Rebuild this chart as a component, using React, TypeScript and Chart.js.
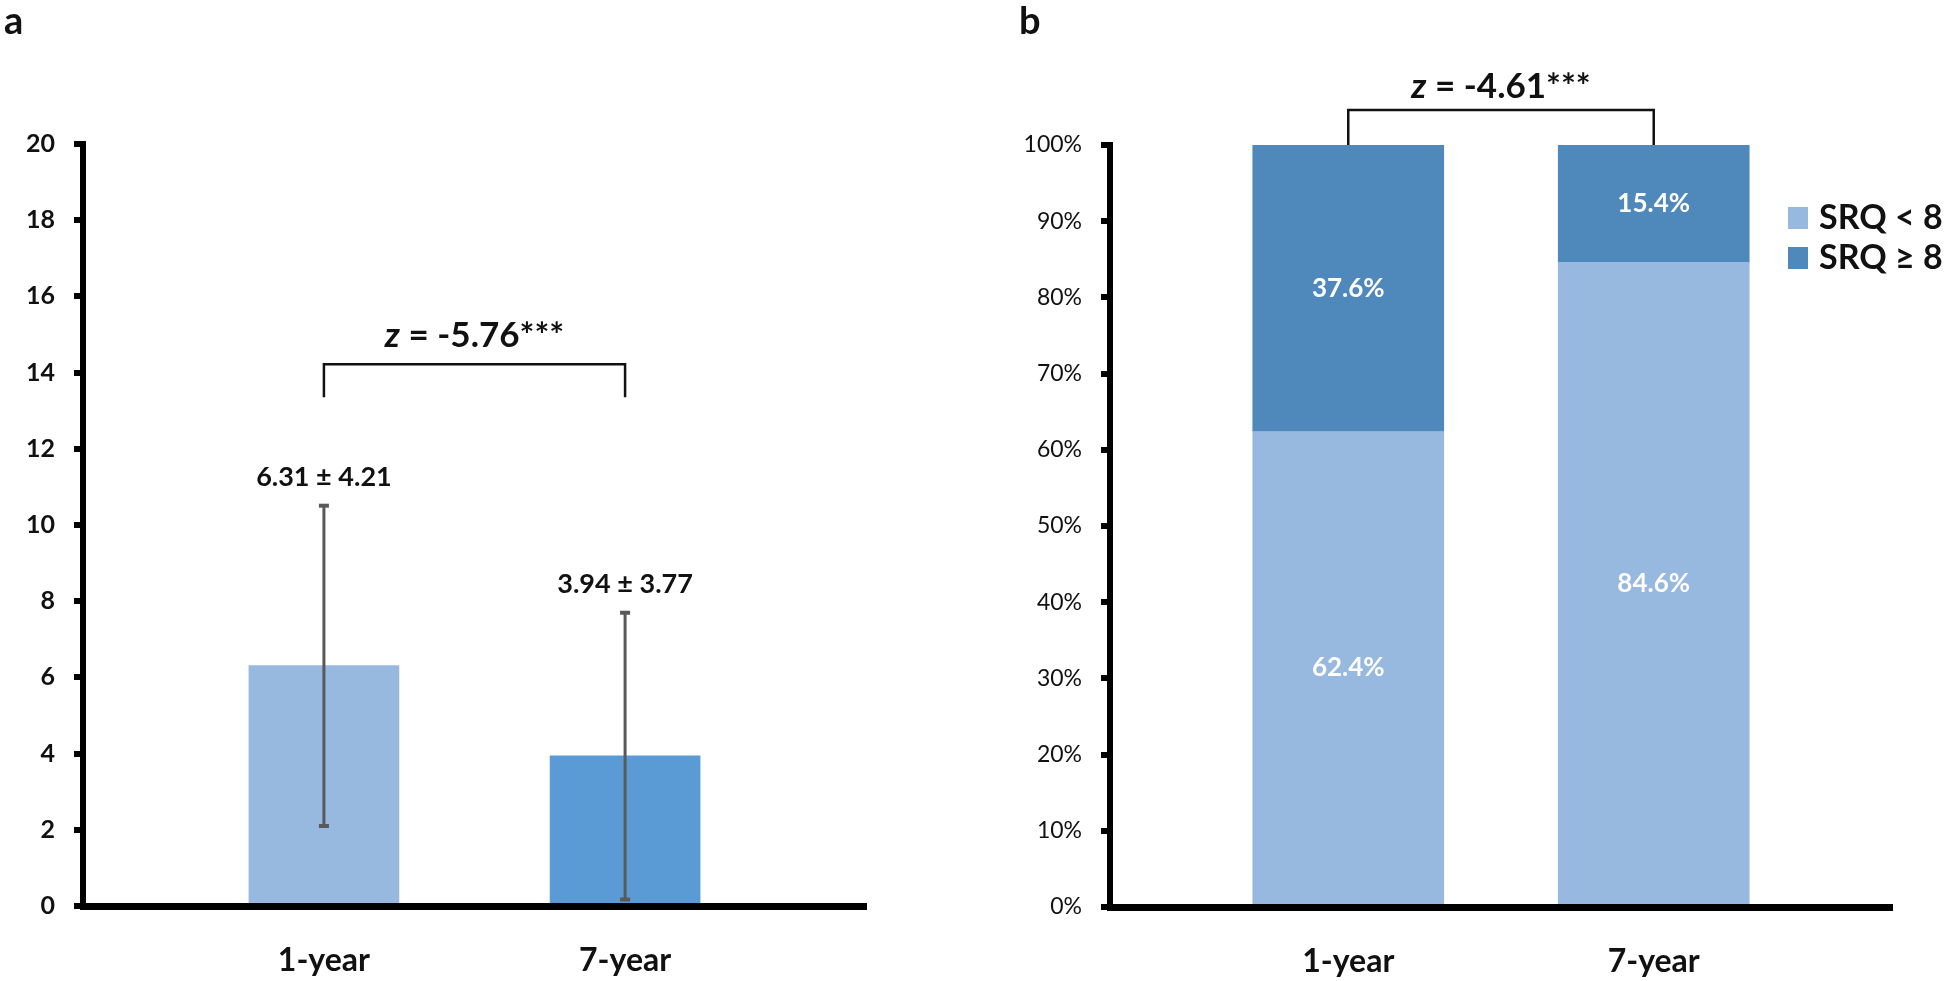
import React, { useEffect, useRef } from "react";
import { Chart, registerables } from "chart.js";

Chart.register(...registerables);

const FONT = "Lato, 'Open Sans', sans-serif";

// ---------- Panel a data ----------
const categories = ["1-year", "7-year"];
const meanScores = [6.31, 3.94];
const sdScores = [4.21, 3.77];
const meanLabels = ["6.31 ± 4.21", "3.94 ± 3.77"];
const barColorsA = ["#97B8DF", "#5B9BD5"];
const yMinA = 0;
const yMaxA = 20;
const yStepA = 2;
const zLabelA = ["z", " = -5.76***"];
const bracketA = { line: 14.22, legs: 13.35, text: 14.98 };

// ---------- Panel b data ----------
const seriesNames = ["SRQ < 8", "SRQ ≥ 8"];
const srqLow = [62.4, 84.6];
const srqHigh = [37.6, 15.4];
const seriesColors = ["#97B8DF", "#4F88BB"];
const yMinB = 0;
const yMaxB = 100;
const yStepB = 10;
const zLabelB = ["z", " = -4.61***"];
const bracketB = { line: 104.6, legs: 100, text: 107.7 };

function drawZ(ctx: CanvasRenderingContext2D, parts: string[], cx: number, cy: number, size: number) {
  ctx.save();
  ctx.fillStyle = "#111";
  ctx.textBaseline = "middle";
  ctx.textAlign = "left";
  ctx.font = `italic bold ${size}px ${FONT}`;
  const w1 = ctx.measureText(parts[0]).width;
  ctx.font = `bold ${size}px ${FONT}`;
  const w2 = ctx.measureText(parts[1]).width;
  const start = cx - (w1 + w2) / 2;
  ctx.font = `italic bold ${size}px ${FONT}`;
  ctx.fillText(parts[0], start, cy);
  ctx.font = `bold ${size}px ${FONT}`;
  ctx.fillText(parts[1], start + w1, cy);
  ctx.restore();
}

function drawBracket(chart: any, b: { line: number; legs: number; text: number }, parts: string[]) {
  const ctx = chart.ctx as CanvasRenderingContext2D;
  const xs = chart.scales.x;
  const ys = chart.scales.y;
  const x0 = xs.getPixelForValue(0);
  const x1 = xs.getPixelForValue(1);
  const yl = ys.getPixelForValue(b.line);
  const yg = ys.getPixelForValue(b.legs);
  ctx.save();
  ctx.strokeStyle = "#111";
  ctx.lineWidth = 2.5;
  ctx.beginPath();
  ctx.moveTo(x0, yg);
  ctx.lineTo(x0, yl);
  ctx.lineTo(x1, yl);
  ctx.lineTo(x1, yg);
  ctx.stroke();
  ctx.restore();
  drawZ(ctx, parts, (x0 + x1) / 2, ys.getPixelForValue(b.text), 35);
}

const panelAPlugin = {
  id: "panelA",
  afterDatasetsDraw(chart: any) {
    const ctx = chart.ctx as CanvasRenderingContext2D;
    const ys = chart.scales.y;
    const meta = chart.getDatasetMeta(0);
    ctx.save();
    meta.data.forEach((bar: any, i: number) => {
      const cx = bar.x;
      const top = ys.getPixelForValue(meanScores[i] + sdScores[i]);
      const bot = ys.getPixelForValue(meanScores[i] - sdScores[i]);
      ctx.strokeStyle = "#595959";
      ctx.lineWidth = 3;
      ctx.beginPath();
      ctx.moveTo(cx, top);
      ctx.lineTo(cx, bot);
      ctx.stroke();
      ctx.fillStyle = "#595959";
      ctx.fillRect(cx - 5, top - 1.5, 10, 4);
      ctx.fillRect(cx - 5, bot - 2, 10, 4);
      ctx.fillStyle = "#111";
      ctx.font = `bold 27px ${FONT}`;
      ctx.textAlign = "center";
      ctx.textBaseline = "middle";
      ctx.fillText(meanLabels[i], cx, top - 28);
    });
    ctx.restore();
    drawBracket(chart, bracketA, zLabelA);
  },
  afterDraw(chart: any) {
    const ctx = chart.ctx as CanvasRenderingContext2D;
    ctx.save();
    ctx.fillStyle = "#111";
    ctx.font = `bold 38px ${FONT}`;
    ctx.textAlign = "left";
    ctx.textBaseline = "alphabetic";
    ctx.fillText("a", 4, 34);
    ctx.restore();
  },
};

const panelBPlugin = {
  id: "panelB",
  afterDatasetsDraw(chart: any) {
    const ctx = chart.ctx as CanvasRenderingContext2D;
    ctx.save();
    ctx.fillStyle = "#ffffff";
    ctx.font = `bold 26px ${FONT}`;
    ctx.textAlign = "center";
    ctx.textBaseline = "middle";
    chart.data.datasets.forEach((ds: any, di: number) => {
      const meta = chart.getDatasetMeta(di);
      meta.data.forEach((bar: any, i: number) => {
        const v = ds.data[i].y;
        ctx.fillText(`${v.toFixed(1)}%`, bar.x, (bar.y + bar.base) / 2);
      });
    });
    ctx.restore();
    drawBracket(chart, bracketB, zLabelB);
    // legend
    ctx.save();
    chart.data.datasets.forEach((ds: any, di: number) => {
      const cy = 218 + di * 40;
      ctx.fillStyle = ds.backgroundColor;
      ctx.fillRect(815, cy - 11, 20, 22);
      ctx.fillStyle = "#111";
      ctx.font = `bold 34px ${FONT}`;
      ctx.textAlign = "left";
      ctx.textBaseline = "middle";
      ctx.fillText(ds.label, 846, cy);
    });
    ctx.restore();
  },
  afterDraw(chart: any) {
    const ctx = chart.ctx as CanvasRenderingContext2D;
    ctx.save();
    ctx.fillStyle = "#111";
    ctx.font = `bold 38px ${FONT}`;
    ctx.textAlign = "left";
    ctx.textBaseline = "alphabetic";
    ctx.fillText("b", 46, 34);
    ctx.restore();
  },
};

function ChartA() {
  const ref = useRef<HTMLCanvasElement>(null);
  useEffect(() => {
    const chart = new Chart(ref.current as HTMLCanvasElement, {
      type: "bar",
      data: {
        datasets: [
          {
            label: "SRQ score",
            data: meanScores.map((v, i) => ({ x: i, y: v })),
            backgroundColor: barColorsA,
            borderWidth: 0,
            barThickness: 150,
          },
        ],
      },
      options: {
        responsive: false,
        animation: false,
        devicePixelRatio: 1,
        layout: { padding: { top: 144, right: 107, left: 0, bottom: 0 } },
        plugins: { legend: { display: false }, tooltip: { enabled: false } },
        scales: {
          x: {
            type: "linear",
            offset: false,
            min: -0.8,
            max: 1.8,
            afterBuildTicks: (s: any) => {
              s.ticks = categories.map((_, i) => ({ value: i }));
            },
            afterFit: (s: any) => {
              s.height = 75;
            },
            grid: { display: false, drawTicks: false, offset: false },
            border: { display: true, width: 7, color: "#000", z: 1 },
            ticks: {
              callback: (v: any) => categories[v] ?? "",
              font: { family: FONT, size: 32, weight: "bold" },
              color: "#111",
              padding: 35,
            },
          },
          y: {
            min: yMinA,
            max: yMaxA,
            afterFit: (s: any) => {
              s.width = 83;
            },
            grid: {
              display: true,
              drawOnChartArea: false,
              drawTicks: true,
              tickLength: 9,
              tickWidth: 6,
              tickColor: "#000",
              lineWidth: 6,
              color: "#000",
            },
            border: { display: true, width: 6, color: "#000" },
            ticks: {
              stepSize: yStepA,
              font: { family: FONT, size: 25, weight: "bold" },
              color: "#111",
              padding: 19,
            },
          },
        },
      } as any,
      plugins: [panelAPlugin],
    });
    return () => chart.destroy();
  }, []);
  return (
    <canvas
      ref={ref}
      width={973}
      height={981}
      style={{ position: "absolute", left: 0, top: 0, width: 973, height: 981, display: "block" }}
    />
  );
}

function ChartB() {
  const ref = useRef<HTMLCanvasElement>(null);
  useEffect(() => {
    const chart = new Chart(ref.current as HTMLCanvasElement, {
      type: "bar",
      data: {
        datasets: [
          {
            label: seriesNames[0],
            data: srqLow.map((v, i) => ({ x: i, y: v })),
            backgroundColor: seriesColors[0],
            borderWidth: 0,
            barThickness: 191,
          },
          {
            label: seriesNames[1],
            data: srqHigh.map((v, i) => ({ x: i, y: v })),
            backgroundColor: seriesColors[1],
            borderWidth: 0,
            barThickness: 191,
          },
        ],
      },
      options: {
        responsive: false,
        animation: false,
        devicePixelRatio: 1,
        layout: { padding: { top: 145, right: 54, left: 0, bottom: 0 } },
        plugins: { legend: { display: false }, tooltip: { enabled: false } },
        scales: {
          x: {
            type: "linear",
            offset: false,
            stacked: true,
            min: -0.78,
            max: 1.78,
            afterBuildTicks: (s: any) => {
              s.ticks = categories.map((_, i) => ({ value: i }));
            },
            afterFit: (s: any) => {
              s.height = 74;
            },
            grid: { display: false, drawTicks: false, offset: false },
            border: { display: true, width: 7, color: "#000", z: 1 },
            ticks: {
              callback: (v: any) => categories[v] ?? "",
              font: { family: FONT, size: 32, weight: "bold" },
              color: "#111",
              padding: 35,
            },
          },
          y: {
            stacked: true,
            min: yMinB,
            max: yMaxB,
            afterFit: (s: any) => {
              s.width = 137;
            },
            grid: {
              display: true,
              drawOnChartArea: false,
              drawTicks: true,
              tickLength: 9,
              tickWidth: 6,
              tickColor: "#000",
              lineWidth: 6,
              color: "#000",
            },
            border: { display: true, width: 6, color: "#000" },
            ticks: {
              stepSize: yStepB,
              callback: (v: any) => `${v}%`,
              font: { family: FONT, size: 23, weight: "normal" },
              color: "#111",
              padding: 19,
            },
          },
        },
      } as any,
      plugins: [panelBPlugin],
    });
    return () => chart.destroy();
  }, []);
  return (
    <canvas
      ref={ref}
      width={973}
      height={981}
      style={{ position: "absolute", left: 973, top: 0, width: 973, height: 981, display: "block" }}
    />
  );
}

export default function App() {
  return (
    <div
      style={{
        position: "fixed",
        left: 0,
        top: 0,
        width: 1946,
        height: 981,
        background: "#ffffff",
        overflow: "hidden",
      }}
    >
      <ChartA />
      <ChartB />
    </div>
  );
}
